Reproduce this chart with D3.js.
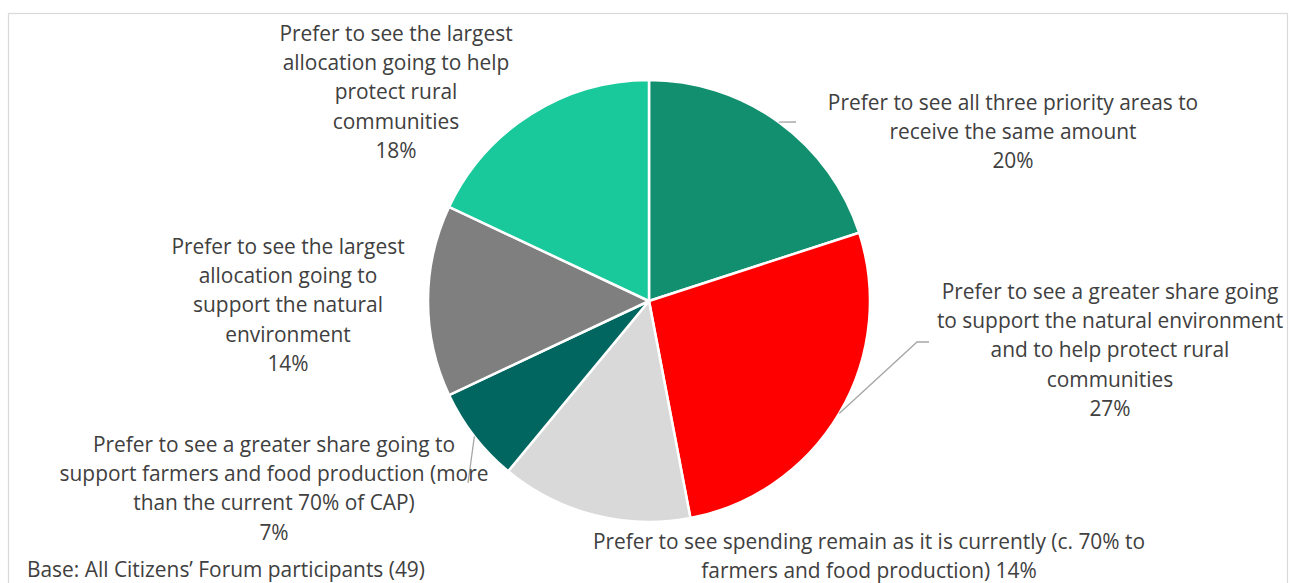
<!DOCTYPE html>
<html>
<head>
<meta charset="utf-8">
<script src="https://cdn.jsdelivr.net/npm/d3@7"></script>
<style>
  html, body { margin: 0; padding: 0; background: #fff; }
  svg { display: block; }
  text { font-family: "Open Sans", Lato, sans-serif; fill: #404040; }
</style>
</head>
<body>
<svg id="chart" width="1291" height="583"></svg>
<script>
// ---- data ----
const categories = [
  "Prefer to see all three priority areas to\nreceive the same amount",
  "Prefer to see a greater share going\nto support the natural environment\nand to help protect rural\ncommunities",
  "Prefer to see spending remain as it is currently (c. 70% to\nfarmers and food production)",
  "Prefer to see a greater share going to\nsupport farmers and food production (more\nthan the current 70% of CAP)",
  "Prefer to see the largest\nallocation going to\nsupport the natural\nenvironment",
  "Prefer to see the largest\nallocation going to help\nprotect rural\ncommunities"
];
const values = [20, 27, 14, 7, 14, 18];
const colors = ["#128F6E", "#FF0000", "#D9D9D9", "#00665F", "#7F7F7F", "#19C99B"];
const baseNote = "Base: All Citizens\u2019 Forum participants (49)";

// ---- layout (not data) ----
const cx = 649, cy = 301, R = 221;
const fontSize = 20.9, lineH = 29.2;
const labelLayout = [
  { x: 1013, y: 102, inline: false, leader: [[796, 122]] },
  { x: 1110, y: 291, inline: false, leader: [[917, 342], [929, 342]] },
  { x: 869,  y: 541, inline: true,  leader: null },
  { x: 274,  y: 444, inline: false, leader: [[468, 483]] },
  { x: 288,  y: 246, inline: false, leader: null },
  { x: 396,  y: 33,  inline: false, leader: null }
];

const svg = d3.select("#chart");

svg.append("rect")
  .attr("x", 8.5).attr("y", 13.5)
  .attr("width", 1279).attr("height", 600)
  .attr("fill", "none").attr("stroke", "#D9D9D9").attr("stroke-width", 1.2);

const pie = d3.pie().sort(null).value(d => d)(values);
const arc = d3.arc().innerRadius(0).outerRadius(R);

const g = svg.append("g").attr("transform", `translate(${cx},${cy})`);
g.selectAll("path.slice").data(pie).join("path")
  .attr("class", "slice")
  .attr("d", arc)
  .attr("fill", (d, i) => colors[i])
  .attr("stroke", "#fff").attr("stroke-width", 2.5).attr("stroke-linejoin", "round");

pie.forEach((d, i) => {
  const L = labelLayout[i];
  if (!L.leader) return;
  const a = (d.startAngle + d.endAngle) / 2;
  const p0 = [cx + R * Math.sin(a), cy - R * Math.cos(a)];
  svg.append("path")
    .attr("d", d3.line()([p0, ...L.leader]))
    .attr("fill", "none").attr("stroke", "#A6A6A6").attr("stroke-width", 1.3);
});

pie.forEach((d, i) => {
  const L = labelLayout[i];
  const lines = categories[i].split("\n");
  const pct = values[i] + "%";
  if (L.inline) lines[lines.length - 1] += " " + pct; else lines.push(pct);
  const t = svg.append("text")
    .attr("text-anchor", "middle")
    .attr("font-size", fontSize)
    .attr("dominant-baseline", "central");
  lines.forEach((ln, k) => {
    t.append("tspan").attr("x", L.x).attr("y", L.y + k * lineH).text(ln);
  });
});

svg.append("text")
  .attr("x", 27).attr("y", 569)
  .attr("font-size", fontSize)
  .attr("dominant-baseline", "central")
  .text(baseNote);
</script>
</body>
</html>
